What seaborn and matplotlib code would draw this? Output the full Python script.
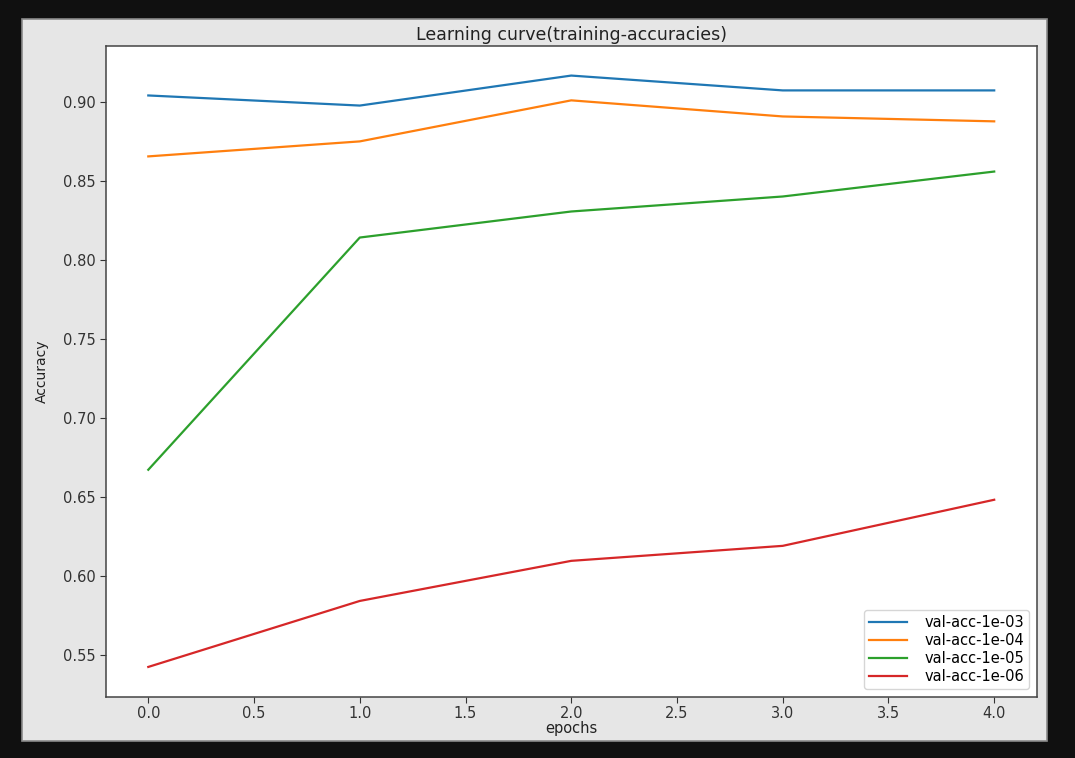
import seaborn as sns
import matplotlib.pyplot as plt
from matplotlib.patches import Rectangle

# values
epochs = [0, 1, 2, 3, 4]
acc_1e03 = [0.9044, 0.8980, 0.9170, 0.9076, 0.9076]
acc_1e04 = [0.8658, 0.8753, 0.9013, 0.8911, 0.8880]
acc_1e05 = [0.6673, 0.8144, 0.8309, 0.8404, 0.8562]
acc_1e06 = [0.5424, 0.5842, 0.6096, 0.6191, 0.6483]
labels = ['val-acc-1e-03', 'val-acc-1e-04', 'val-acc-1e-05', 'val-acc-1e-06']
colors = ['#1f77b4', '#ff7f0e', '#2ca02c', '#d62728']

W, H = 1075, 758
fig = plt.figure(figsize=(W / 100, H / 100), dpi=100)
fig.patch.set_facecolor('#101010')
# light grey "screenshot" figure area inside the dark border
bg = Rectangle((22 / W, 1 - 741 / H), (1047 - 22) / W, (741 - 19) / H,
               transform=fig.transFigure, facecolor='#e6e6e6',
               edgecolor='#8a8a8a', linewidth=1.2, zorder=-10)
fig.add_artist(bg)

ax = fig.add_axes([106 / W, 1 - 696.5 / H, (1036.5 - 106) / W, (696.5 - 46) / H])
ax.set_facecolor('white')
ax.set_zorder(1)

for vals, lab, col in zip([acc_1e03, acc_1e04, acc_1e05, acc_1e06], labels, colors):
    sns.lineplot(x=epochs, y=vals, label=lab, color=col, linewidth=1.6, ax=ax)

ax.set_title('Learning curve(training-accuracies)', fontsize=12.5, color='#222222', pad=4)
ax.set_xlabel('epochs', fontsize=10.5, color='#222222', labelpad=0)
ax.set_ylabel('Accuracy', fontsize=10, color='#222222', labelpad=10)
ax.tick_params(labelsize=10.5, colors='#333333', length=4)
ax.tick_params(axis='x', pad=2.5)
for s in ax.spines.values():
    s.set_color('#444444')
    s.set_linewidth(1.1)
ax.legend(loc='lower right', fontsize=10.5, labelspacing=0.2, handlelength=2.6,
          borderpad=0.35, handletextpad=1.2)

fig.savefig('out.png', dpi=100, facecolor=fig.get_facecolor())
